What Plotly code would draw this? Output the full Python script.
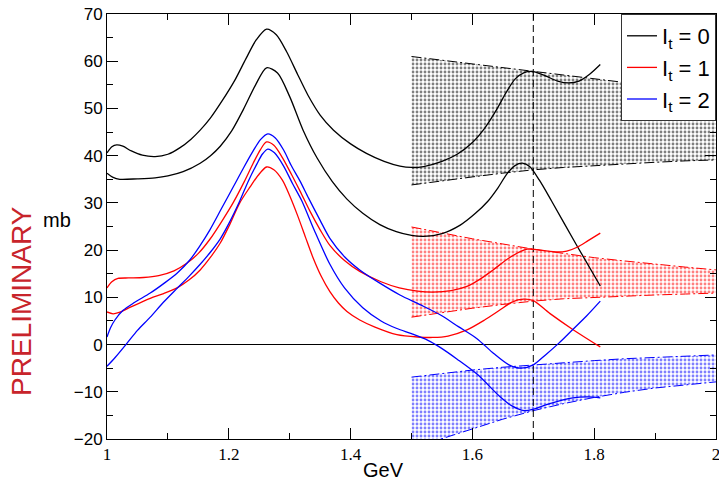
import plotly.graph_objects as go

# ---- cross sections (mb) versus energy (GeV) for the three isospin channels ----
# I_t = 0
x_i0_hi = [1.00, 1.008, 1.016, 1.026, 1.04, 1.058, 1.079, 1.10, 1.12, 1.138, 1.153, 1.17,
           1.19, 1.21, 1.228, 1.245, 1.262, 1.278, 1.295, 1.313, 1.33, 1.35, 1.372, 1.40,
           1.426, 1.455, 1.481, 1.50, 1.52, 1.55, 1.575, 1.60, 1.62, 1.64, 1.655, 1.67,
           1.685, 1.70, 1.72, 1.74, 1.758, 1.775, 1.793, 1.81]
y_i0_hi = [40.6, 41.9, 42.3, 42.0, 41.0, 40.1, 39.8, 40.3, 41.7, 43.5, 45.4, 48.0,
           51.8, 56.0, 60.5, 64.5, 66.8, 65.6, 62.0, 57.2, 52.8, 48.6, 45.4, 42.5,
           40.5, 38.8, 37.8, 37.5, 37.7, 38.8, 40.3, 42.8, 45.8, 49.8, 53.3, 56.2,
           57.6, 57.8, 56.9, 55.8, 55.4, 55.8, 57.3, 59.3]

x_i0_lo = [1.00, 1.01, 1.021, 1.05, 1.079, 1.10, 1.125, 1.153, 1.17, 1.186, 1.205, 1.224,
           1.244, 1.262, 1.28, 1.30, 1.322, 1.345, 1.37, 1.394, 1.42, 1.448, 1.475, 1.50,
           1.52, 1.55, 1.58, 1.605, 1.625, 1.642, 1.657, 1.67, 1.682, 1.694, 1.71, 1.73,
           1.77, 1.81]
y_i0_lo = [36.3, 35.4, 35.0, 35.1, 35.3, 35.7, 36.6, 38.4, 40.0, 42.0, 45.3, 49.8,
           55.0, 58.6, 57.5, 52.5, 45.4, 39.5, 34.5, 30.8, 27.8, 25.4, 23.9, 23.1,
           22.9, 23.5, 25.3, 27.8, 30.3, 33.2, 36.2, 37.9, 38.4, 37.7, 34.8, 30.4,
           21.3, 12.4]

# I_t = 1
x_i1_hi = [1.00, 1.008, 1.018, 1.035, 1.06, 1.085, 1.11, 1.131, 1.15, 1.169, 1.188, 1.207,
           1.225, 1.24, 1.252, 1.262, 1.274, 1.288, 1.303, 1.317, 1.333, 1.35, 1.366, 1.39,
           1.415, 1.45, 1.48, 1.51, 1.535, 1.565, 1.591, 1.612, 1.634, 1.662, 1.69, 1.711,
           1.739, 1.755, 1.772, 1.79, 1.81]
y_i1_hi = [12.0, 13.3, 14.0, 14.1, 14.2, 14.6, 15.6, 17.2, 19.3, 22.3, 26.0, 30.0,
           34.4, 38.4, 41.3, 42.9, 42.2, 39.6, 36.0, 32.5, 28.3, 24.3, 21.0, 17.8,
           15.5, 13.3, 12.0, 11.3, 11.1, 11.4, 12.3, 13.8, 15.8, 18.5, 20.2, 20.0,
           19.6, 19.8, 20.6, 22.0, 23.6]

x_i1_lo = [1.00, 1.01, 1.02, 1.035, 1.071, 1.093, 1.115, 1.135, 1.153, 1.17, 1.186, 1.20,
           1.218, 1.235, 1.248, 1.262, 1.274, 1.288, 1.30, 1.313, 1.326, 1.338, 1.352,
           1.366, 1.38, 1.394, 1.415, 1.44, 1.476, 1.51, 1.535, 1.56, 1.591, 1.62, 1.645,
           1.665, 1.684, 1.70, 1.727, 1.766, 1.81]
y_i1_lo = [6.9, 6.5, 6.8, 7.7, 9.8, 10.8, 12.0, 13.7, 15.8, 18.5, 21.5, 25.0,
           30.0, 33.4, 35.8, 37.6, 37.0, 34.8, 31.5, 27.3, 22.7, 18.5, 14.4,
           11.2, 8.8, 7.0, 5.2, 3.7, 2.1, 1.6, 1.5, 1.8, 3.1, 5.2, 7.3,
           9.0, 9.6, 9.3, 6.6, 3.1, -0.5]

# I_t = 2
x_i2_a = [1.00, 1.006, 1.013, 1.026, 1.045, 1.071, 1.093, 1.115, 1.136, 1.152, 1.169, 1.188,
          1.207, 1.225, 1.24, 1.252, 1.264, 1.276, 1.29, 1.303, 1.317, 1.331, 1.35, 1.366,
          1.39, 1.415, 1.448, 1.481, 1.515, 1.547, 1.577, 1.607, 1.635, 1.66, 1.68, 1.70,
          1.72, 1.742, 1.764, 1.787, 1.81]
y_i2_a = [1.6, 3.6, 5.2, 7.2, 8.9, 10.9, 12.9, 15.1, 17.9, 20.8, 24.3, 28.8,
          33.3, 37.6, 41.0, 43.4, 44.6, 43.8, 41.2, 37.8, 34.6, 31.0, 26.3, 22.5,
          18.6, 15.8, 13.0, 10.5, 8.4, 6.3, 3.8, 1.3, -1.9, -4.3, -5.0, -4.3,
          -2.2, 0.3, 3.1, 6.0, 9.2]

x_i2_b = [1.00, 1.013, 1.033, 1.05, 1.071, 1.093, 1.115, 1.135, 1.153, 1.17, 1.186, 1.20,
          1.218, 1.232, 1.246, 1.255, 1.264, 1.275, 1.29, 1.305, 1.32, 1.34, 1.366, 1.39,
          1.42, 1.45, 1.476, 1.50, 1.527, 1.547, 1.575, 1.608, 1.645, 1.665, 1.685, 1.70,
          1.727, 1.765, 1.79, 1.81]
y_i2_b = [-4.6, -2.8, 0.3, 3.0, 5.8, 9.0, 11.9, 14.5, 17.0, 19.6, 22.4, 25.6,
          30.4, 34.6, 38.2, 40.3, 41.4, 40.6, 37.8, 34.0, 30.4, 24.3, 17.0, 12.0,
          7.8, 5.0, 3.4, 2.3, 0.9, -0.6, -3.1, -6.3, -11.0, -13.0, -14.0, -13.7,
          -12.5, -11.3, -11.1, -11.3]

# ---- uncertainty bands above 1.5 GeV ----
band_x = [1.50, 1.55, 1.60, 1.65, 1.70, 1.75, 1.80, 1.85, 1.90, 1.95, 2.00]
band_i0_hi = [61.0, 60.2, 59.4, 58.6, 57.8, 57.0, 56.3, 55.5, 54.8, 54.1, 53.4]
band_i0_lo = [33.8, 34.7, 35.5, 36.3, 37.0, 37.5, 37.9, 38.3, 38.6, 38.9, 39.1]
band_i1_hi = [24.9, 23.6, 22.4, 21.3, 20.2, 19.3, 18.4, 17.7, 17.0, 16.4, 15.8]
band_i1_lo = [5.8, 6.8, 7.7, 8.5, 9.2, 9.7, 10.0, 10.3, 10.5, 10.7, 10.9]
band_i2_hi = [-6.9, -6.1, -5.4, -4.8, -4.3, -3.8, -3.4, -3.0, -2.7, -2.4, -2.2]
band_i2_lo = [-22.0, -19.9, -17.8, -15.8, -14.0, -12.5, -11.2, -10.1, -9.2, -8.5, -7.9]

marker_energy = 1.7
labels = ["I<sub>t</sub> = 0", "I<sub>t</sub> = 1", "I<sub>t</sub> = 2"]
colors = ["#000000", "#ff0000", "#0000ff"]

y_range = [-20, 70]
x_range = [1, 2]
x_ticks = [1, 1.2, 1.4, 1.6, 1.8, 2]
x_ticktext = ["1", "1.2", "1.4", "1.6", "1.8", "2"]

fig = go.Figure()

# stippled bands with dash-dot edges
bands = [(band_i0_lo, band_i0_hi, colors[0]),
         (band_i1_lo, band_i1_hi, colors[1]),
         (band_i2_lo, band_i2_hi, colors[2])]
for lo, hi, col in bands:
    fig.add_trace(go.Scatter(
        x=band_x + band_x[::-1], y=hi + lo[::-1],
        mode="lines", fill="toself", line=dict(width=0),
        fillcolor="rgba(0,0,0,0)",
        fillpattern=dict(shape=".", fgcolor=col, size=4, solidity=0.4),
        hoverinfo="skip", showlegend=False))
    for edge in (hi, lo):
        fig.add_trace(go.Scatter(
            x=band_x, y=edge, mode="lines",
            line=dict(color=col, width=1, dash="10px,3px,2px,3px"),
            hoverinfo="skip", showlegend=False))

# dashed marker line
fig.add_trace(go.Scatter(
    x=[marker_energy, marker_energy], y=y_range, mode="lines",
    line=dict(color="black", width=1, dash="7px,4px"),
    hoverinfo="skip", showlegend=False))

curves = [
    (x_i0_hi, y_i0_hi, 0, True), (x_i0_lo, y_i0_lo, 0, False),
    (x_i1_hi, y_i1_hi, 1, True), (x_i1_lo, y_i1_lo, 1, False),
    (x_i2_a, y_i2_a, 2, True), (x_i2_b, y_i2_b, 2, False),
]
for xs, ys, k, show in curves:
    fig.add_trace(go.Scatter(
        x=xs, y=ys, mode="lines", name=labels[k], legendgroup=str(k),
        line=dict(color=colors[k], width=1.3, shape="spline", smoothing=0.8),
        showlegend=show))

# plot area in pixels: x 107..716, y 14..439
def px_to_paper(px, py):
    return (px - 107) / 609.0, (439 - py) / 425.0

gx, gy = px_to_paper(383, 470)
mx, my = px_to_paper(57, 220)
prx, pry = px_to_paper(21, 301)

fig.update_layout(
    width=719, height=482,
    margin=dict(l=107, r=3, t=14, b=43, autoexpand=False),
    paper_bgcolor="white", plot_bgcolor="white",
    font=dict(family="Liberation Sans, Arial, sans-serif", color="black"),
    showlegend=True,
    legend=dict(x=1, y=1, xanchor="right", yanchor="top",
                bgcolor="white", bordercolor="#333333", borderwidth=1,
                font=dict(size=22, family="Liberation Sans, Arial, sans-serif"),
                itemwidth=30, tracegroupgap=0),
    xaxis=dict(range=x_range, tickvals=x_ticks, ticktext=x_ticktext,
               automargin=False, ticklabeloverflow="allow",
               showgrid=False, zeroline=False,
               showline=True, linecolor="black", linewidth=1, mirror="ticks",
               ticks="inside", ticklen=11, tickcolor="black", tickwidth=1,
               minor=dict(dtick=0.1, tick0=1, ticks="inside", ticklen=6, tickcolor="black"),
               tickfont=dict(family="Liberation Serif, Times New Roman, serif", size=17)),
    yaxis=dict(range=y_range, dtick=10, tick0=0, showgrid=False, automargin=False,
               zeroline=True, zerolinecolor="black", zerolinewidth=1,
               showline=True, linecolor="black", linewidth=1, mirror="ticks",
               ticks="inside", ticklen=11, tickcolor="black", tickwidth=1,
               minor=dict(dtick=5, ticks="inside", ticklen=6, tickcolor="black"),
               tickfont=dict(family="Liberation Sans, Arial, sans-serif", size=17)),
    annotations=[
        dict(text="GeV", x=gx, y=gy, xref="paper", yref="paper", showarrow=False,
             xanchor="center", yanchor="middle", font=dict(size=20)),
        dict(text="mb", x=mx, y=my, xref="paper", yref="paper", showarrow=False,
             xanchor="center", yanchor="middle", font=dict(size=20)),
        dict(text="PRELIMINARY", x=prx, y=pry, xref="paper", yref="paper",
             showarrow=False, textangle=-90, xanchor="center", yanchor="middle",
             font=dict(size=28, color="#c8242b")),
    ],
)

fig.write_html("out.html")
